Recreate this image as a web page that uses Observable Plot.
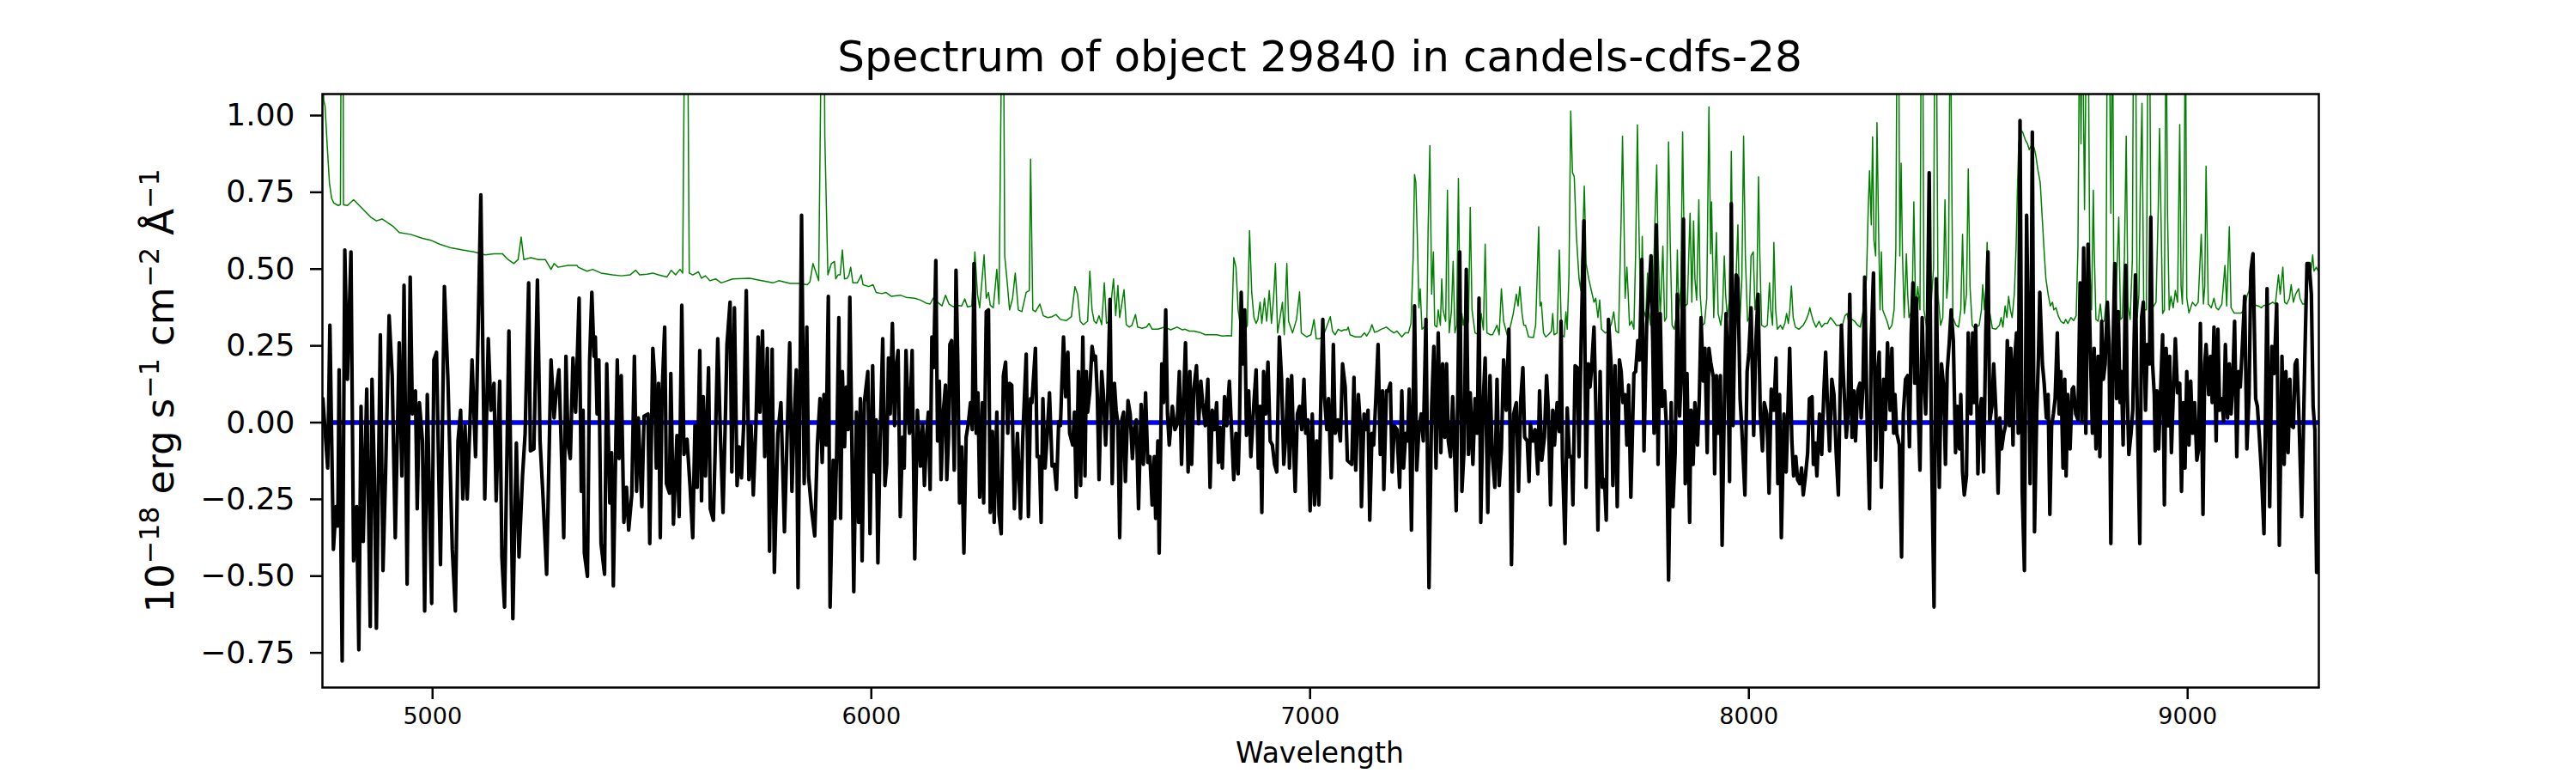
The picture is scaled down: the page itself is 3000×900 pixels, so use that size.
<!DOCTYPE html>
<html>
<head>
<meta charset="utf-8">
<script src="https://cdn.jsdelivr.net/npm/d3@7"></script>
<script src="https://cdn.jsdelivr.net/npm/@observablehq/plot@0.6"></script>
<style>
  body { margin: 0; background: #fff; }
  #wrap { position: relative; width: 3000px; height: 900px; font-family: "DejaVu Sans", sans-serif; color: #000; background: #fff; }
  #chart { position: absolute; left: 0; top: 0; }
  .lbl { position: absolute; white-space: nowrap; line-height: 1; }
  #title { left: 1537px; top: 66px; transform: translate(-50%, -50%); font-size: 50px; }
  #xlabel { left: 1537px; top: 876px; transform: translate(-50%, -50%); font-size: 33px; }
  #ylabel { left: 186px; top: 455px; transform: translate(-50%, -50%) rotate(-90deg); font-size: 45px; }
  #ylabel sup { font-size: 70%; vertical-align: baseline; position: relative; top: -0.55em; }
</style>
</head>
<body>
<div id="wrap">
  <div id="chart"></div>
  <div class="lbl" id="title">Spectrum of object 29840 in candels-cdfs-28</div>
  <div class="lbl" id="xlabel">Wavelength</div>
  <div class="lbl" id="ylabel">10<sup>−18</sup> erg s<sup>−1</sup> cm<sup>−2</sup> Å<sup>−1</sup></div>
</div>
<script>
// Axis ticks
const xTicks = [5000, 6000, 7000, 8000, 9000];
const yTicks = [-0.75, -0.5, -0.25, 0, 0.25, 0.5, 0.75, 1.0];
const xDomain = [4749, 9299];
const yDomain = [-0.863, 1.07];

// Zero level (blue)
const zeroLevel = [[4773, 0], [9300, 0]];

// Object spectrum (black): [wavelength, flux]
const spectrumPoints = [
[4750,0.078],[4761,-0.148],[4766,0.317],[4774,-0.413],[4780,-0.274],[4784,-0.337],[4787,0.172],[4794,-0.777],[4800,0.562],[4806,0.141],
[4814,0.556],[4820,-0.450],[4827,-0.274],[4832,-0.740],[4837,0.053],[4842,-0.387],[4850,0.109],[4858,-0.664],[4862,0.141],[4867,-0.148],
[4872,-0.670],[4881,0.286],[4887,-0.482],[4893,-0.161],[4901,0.348],[4908,0.153],[4915,-0.375],[4924,0.260],[4930,-0.174],[4935,0.447],
[4942,-0.526],[4949,0.474],[4954,0.028],[4961,0.103],[4965,-0.281],[4970,0.065],[4977,-0.060],[4982,-0.614],[4988,0.091],[4994,-0.312],
[4998,-0.589],[5003,0.204],[5009,0.229],[5018,-0.463],[5027,0.443],[5035,0.141],[5045,-0.413],[5052,-0.614],[5058,-0.060],[5064,0.040],
[5069,-0.249],[5074,-0.010],[5079,-0.249],[5085,-0.010],[5090,0.204],[5098,-0.111],[5110,0.742],[5119,-0.249],[5127,0.273],[5133,0.040],
[5140,0.128],[5145,-0.255],[5153,0.135],[5158,-0.438],[5164,-0.601],[5174,0.298],[5177,-0.023],[5183,-0.639],[5191,-0.067],[5197,-0.438],
[5205,-0.174],[5211,-0.035],[5219,0.455],[5223,-0.092],[5231,-0.086],[5239,0.464],[5245,-0.060],[5252,-0.249],[5260,-0.494],[5270,0.204],
[5277,0.015],[5282,0.103],[5288,0.172],[5293,-0.060],[5299,-0.375],[5304,0.216],[5309,-0.073],[5314,-0.117],[5320,0.210],[5326,0.034],
[5334,0.405],[5339,-0.224],[5343,0.040],[5346,-0.425],[5353,-0.501],[5358,0.204],[5363,0.424],[5368,0.216],[5371,0.279],[5375,0.028],
[5379,0.204],[5384,-0.394],[5392,-0.494],[5397,0.191],[5404,-0.262],[5408,-0.098],[5412,-0.532],[5421,0.204],[5425,-0.117],[5430,0.153],
[5436,-0.325],[5442,-0.211],[5447,-0.350],[5454,-0.236],[5460,0.216],[5465,-0.224],[5469,0.015],[5477,-0.274],[5482,0.021],[5491,0.028],
[5495,-0.394],[5502,0.242],[5506,0.153],[5510,-0.148],[5515,0.128],[5519,-0.375],[5523,0.091],[5529,0.311],[5533,-0.199],[5540,-0.230],
[5543,0.160],[5549,-0.331],[5557,-0.042],[5562,-0.306],[5568,0.382],[5573,-0.104],[5580,-0.054],[5587,-0.211],[5593,-0.375],[5598,-0.010],
[5603,-0.211],[5609,0.235],[5613,-0.255],[5617,0.084],[5622,-0.174],[5629,0.179],[5633,-0.281],[5640,-0.318],[5645,-0.035],[5650,0.273],
[5656,-0.042],[5662,-0.293],[5668,0.053],[5671,0.254],[5678,0.392],[5682,-0.161],[5688,0.374],[5694,-0.205],[5699,-0.079],[5704,-0.180],
[5709,-0.010],[5715,0.430],[5721,-0.186],[5726,-0.010],[5731,-0.236],[5737,-0.010],[5742,0.279],[5746,0.034],[5752,0.298],[5757,-0.111],
[5763,0.242],[5768,-0.419],[5774,0.239],[5779,-0.488],[5787,-0.035],[5794,0.065],[5802,-0.356],[5814,0.260],[5819,-0.224],[5823,-0.029],
[5829,0.172],[5833,-0.538],[5841,0.675],[5847,-0.199],[5853,0.311],[5857,-0.174],[5864,-0.287],[5871,-0.369],[5877,-0.073],[5883,0.078],
[5888,-0.130],[5892,0.091],[5897,-0.073],[5902,0.411],[5906,-0.601],
[5913,-0.123],[5917,-0.312],[5921,-0.098],[5926,0.342],[5930,-0.312],[5934,0.166],[5939,-0.079],[5943,0.116],[5947,-0.023],[5951,0.408],
[5955,0.003],[5960,-0.551],[5966,0.034],[5971,-0.325],[5975,0.078],[5979,-0.450],[5984,0.065],[5992,0.166],[5997,-0.362],[6003,0.185],
[6007,-0.161],[6011,0.009],[6015,-0.457],[6020,-0.060],[6026,0.273],[6031,-0.205],[6035,-0.136],[6039,0.210],[6043,0.028],[6048,0.323],
[6053,-0.010],[6056,0.166],[6061,0.235],[6066,-0.306],[6071,-0.048],[6075,-0.148],[6079,0.235],[6084,0.028],[6087,-0.035],[6093,0.235],
[6099,-0.444],[6105,0.040],[6112,-0.142],[6117,-0.004],[6121,-0.205],[6126,-0.042],[6130,0.034],[6134,-0.218],[6138,0.279],[6142,0.179],
[6147,0.528],[6151,-0.060],[6155,0.135],[6159,-0.186],[6164,0.034],[6169,0.122],[6172,-0.186],[6176,-0.048],[6179,0.254],[6183,0.267],
[6189,-0.155],[6193,0.496],[6197,0.204],[6201,-0.262],[6206,-0.079],[6211,-0.425],[6216,-0.048],[6221,-0.004],[6226,0.065],[6230,-0.023],
[6234,0.518],[6239,-0.035],[6243,0.097],[6247,-0.243],[6253,0.065],[6256,-0.262],[6262,0.361],[6267,0.367],[6271,-0.293],[6276,-0.029],
[6280,-0.325],[6286,0.034],[6291,-0.299],[6296,-0.362],[6301,0.153],[6306,0.197],[6311,-0.035],[6315,0.128],[6320,0.122],[6326,-0.281],
[6330,-0.130],[6333,-0.035],[6340,-0.312],[6345,-0.054],[6353,0.223],[6358,-0.306],[6363,0.078],[6366,0.065],[6374,0.242],[6378,-0.111],
[6383,-0.111],[6387,-0.325],[6391,0.078],[6396,-0.148],[6400,-0.060],[6406,0.097],[6412,-0.142],[6417,-0.136],[6422,-0.218],[6427,0.003],
[6431,-0.010],[6438,0.279],[6443,0.084],[6448,0.229],[6452,-0.035],[6459,-0.073],[6463,0.034],[6467,-0.243],[6472,0.166],[6477,-0.205],
[6482,0.279],
[6487,-0.174],[6490,0.166],[6493,0.034],[6498,0.103],[6503,0.248],[6508,0.204],[6511,0.216],[6515,0.091],[6519,-0.186],[6525,0.166],
[6529,0.091],[6534,-0.073],[6539,0.091],[6544,0.401],[6549,-0.199],[6554,0.128],[6558,0.040],[6562,-0.004],[6566,-0.375],[6571,0.009],
[6575,0.034],[6579,-0.192],[6585,0.072],[6590,0.028],[6595,-0.117],[6599,-0.023],[6604,0.009],[6609,-0.281],[6615,0.059],[6620,-0.136],
[6625,0.097],[6630,-0.130],[6635,-0.111],[6640,-0.268],[6645,-0.111],[6648,-0.312],[6653,-0.060],[6656,-0.425],[6662,0.191],[6666,0.065],
[6671,0.367],[6675,0.028],[6679,-0.073],[6686,0.053],[6692,-0.023],[6697,-0.004],[6702,0.166],[6707,-0.136],[6712,0.091],[6716,0.260],
[6722,-0.161],[6726,0.166],[6730,-0.136],[6735,0.109],[6741,0.185],[6746,-0.004],[6751,0.135],[6755,0.065],[6761,-0.010],[6767,0.141],
[6772,-0.211],[6777,0.040],[6782,-0.023],[6787,0.065],[6791,-0.130],[6795,-0.016],[6800,-0.148],[6805,0.084],[6810,-0.010],[6816,0.135],
[6821,-0.023],[6826,-0.186],[6831,-0.035],[6836,-0.167],[6839,-0.023],[6843,0.424],[6847,0.191],[6851,0.367],[6855,-0.042],[6860,0.103],
[6865,-0.111],[6872,0.065],[6877,0.172],[6882,-0.148],[6886,0.053],[6890,-0.293],[6894,0.166],[6899,0.028],[6904,0.197],[6909,-0.060],
[6914,-0.073],[6919,-0.136],[6924,-0.161],[6930,0.279],[6935,0.141],[6940,-0.136],[6945,-0.035],[6949,0.141],[6953,-0.148],[6958,0.153],
[6962,-0.060],[6966,-0.224],[6971,0.028],[6976,0.053],[6981,-0.023],[6986,0.141],[6990,-0.035],[6995,0.009],[7000,-0.287],[7005,0.028],
[7010,-0.268],[7015,-0.060],[7020,-0.268],[7025,0.116],[7029,0.336],[7033,0.078],[7038,-0.023],[7042,0.078],[7048,-0.180],[7053,0.254],
[7057,-0.035],[7063,0.009],
[7069,-0.060],[7074,0.191],[7080,0.116],[7085,-0.123],[7090,-0.130],[7095,-0.136],[7100,0.147],[7104,-0.155],[7110,0.091],[7115,-0.023],
[7117,-0.274],[7123,0.028],[7127,-0.023],[7132,0.040],[7136,-0.318],[7141,-0.035],[7145,-0.073],[7150,0.084],[7155,0.254],[7160,-0.104],
[7165,0.103],[7168,-0.218],[7174,0.103],[7178,0.103],[7183,0.128],[7187,-0.161],[7192,-0.010],[7198,-0.023],[7204,-0.211],[7209,0.103],
[7213,-0.148],[7218,-0.035],[7222,-0.060],[7226,0.109],[7231,-0.350],[7238,0.380],[7243,-0.155],[7248,-0.023],[7253,0.028],[7258,-0.060],
[7264,0.336],[7271,-0.538],[7277,0.047],[7282,0.248],[7287,-0.148],[7292,0.292],[7298,-0.098],[7302,0.191],[7307,-0.048],[7311,0.191],
[7315,-0.060],[7320,-0.111],[7325,0.084],[7328,-0.035],[7333,-0.287],[7341,0.556],[7346,-0.224],[7351,-0.086],[7356,0.499],[7361,-0.104],
[7365,0.097],[7371,-0.136],[7376,0.078],[7381,-0.035],[7385,0.405],[7389,-0.325],[7394,0.053],[7399,0.210],[7405,-0.293],[7410,0.153],
[7415,-0.098],[7421,-0.211],[7426,0.141],[7431,-0.205],[7436,-0.086],[7441,0.204],[7447,0.040],[7453,0.304],[7459,-0.463],[7464,0.028],
[7470,0.065],[7475,-0.224],[7480,0.072],[7485,0.179],[7489,-0.048],[7495,-0.060],[7499,-0.192],[7502,-0.004],[7508,-0.060],[7513,-0.023],
[7519,-0.167],[7523,0.103],[7528,-0.123],[7534,-0.048],[7539,0.153],[7543,0.040],[7548,-0.268],[7553,0.040],[7557,-0.073],[7563,0.065],
[7568,-0.029],[7572,0.330],[7575,-0.111],[7581,-0.394],[7586,0.047],[7591,-0.111],[7596,-0.111],[7599,-0.268],[7604,0.185],[7609,0.179],
[7613,-0.111],[7618,0.286],[7624,0.657],[7629,-0.211],[7634,0.191],[7638,0.116],
[7641,0.166],[7647,0.311],[7651,0.065],[7656,-0.350],[7661,0.166],[7666,-0.211],[7671,-0.186],[7675,-0.318],[7680,0.336],[7686,0.191],
[7690,-0.205],[7695,0.185],[7700,-0.274],[7705,0.204],[7709,0.166],[7713,0.065],[7718,0.091],[7722,-0.073],[7726,0.122],[7731,-0.243],
[7738,0.160],[7742,0.166],[7747,0.267],[7751,0.204],[7756,0.531],[7761,-0.092],[7767,0.317],[7772,0.418],[7777,0.543],[7781,0.254],
[7784,-0.035],[7789,0.644],[7793,-0.136],[7798,0.355],[7802,0.053],[7808,0.103],[7812,-0.010],[7817,-0.513],[7823,0.065],[7827,-0.274],
[7832,-0.098],[7837,0.418],[7842,0.021],[7846,0.153],[7851,0.663],[7855,-0.199],[7859,0.160],[7865,-0.325],[7868,0.040],[7873,-0.136],
[7877,0.065],[7883,-0.073],[7887,0.078],[7891,0.342],[7896,0.135],[7900,0.242],[7905,-0.098],[7909,0.242],[7913,0.197],[7919,0.147],
[7922,-0.167],[7926,0.153],[7930,-0.035],[7935,0.153],[7939,-0.400],[7943,-0.035],[7948,0.355],[7952,0.191],[7956,-0.192],[7960,0.713],
[7964,-0.010],[7967,0.242],[7971,0.481],[7975,0.468],[7980,0.078],[7984,-0.023],[7991,-0.236],[7996,0.166],[8000,0.229],[8005,0.374],
[8011,-0.042],[8016,0.267],[8021,0.418],[8026,0.028],[8031,-0.092],[8035,0.065],[8041,0.028],[8046,-0.230],[8051,0.109],[8057,0.040],
[8062,0.210],[8066,-0.199],[8070,0.091],[8074,-0.375],[8080,0.028],[8085,-0.161],[8089,0.040],[8093,0.242],[8098,-0.060],[8102,-0.174],
[8107,-0.111],[8111,-0.186],[8116,-0.199],[8120,-0.148],[8124,-0.236],[8129,-0.174],[8134,-0.098],[8138,0.078],[8144,0.084],[8147,-0.136],
[8151,-0.067],[8155,-0.174],[8161,0.028],[8166,-0.104],[8171,0.103],[8175,0.229],[8179,0.065],[8184,-0.092],[8189,0.141],[8194,0.091],
[8199,-0.098],[8204,-0.236],[8208,0.103],[8211,0.317],[8215,0.166],
[8222,-0.048],[8226,0.028],[8230,0.418],[8235,-0.048],[8239,0.103],[8243,-0.060],[8248,0.103],[8253,0.128],[8256,0.015],[8260,0.116],
[8264,0.474],[8269,0.040],[8275,-0.281],[8279,0.267],[8284,0.487],[8289,-0.123],[8294,0.166],[8297,0.229],[8302,-0.211],[8307,0.141],
[8311,-0.023],[8316,0.260],[8322,0.040],[8326,0.242],[8330,-0.035],[8333,0.091],[8337,-0.035],[8343,-0.073],[8348,-0.438],[8352,0.028],
[8357,0.141],[8362,0.153],[8366,-0.079],[8370,0.292],[8374,0.455],[8378,0.128],[8382,0.405],[8386,0.040],[8390,-0.155],[8395,0.342],
[8398,0.191],[8403,0.028],[8406,0.191],[8411,0.814],[8416,-0.060],[8422,-0.601],[8427,0.468],[8434,-0.211],[8439,0.191],[8444,0.116],
[8448,-0.136],[8452,0.166],[8457,0.267],[8461,0.367],[8466,0.267],[8471,-0.098],[8475,0.053],[8480,-0.086],[8483,0.091],[8487,-0.161],
[8491,-0.236],[8496,-0.174],[8500,0.292],[8506,0.028],[8510,0.292],[8513,0.065],[8517,0.317],[8522,-0.167],[8526,0.028],[8530,0.078],
[8535,-0.161],[8540,0.292],[8545,0.556],[8549,0.003],[8554,0.053],[8558,0.191],[8563,0.040],[8568,-0.230],[8572,0.015],[8576,-0.086],
[8581,-0.035],[8585,-0.010],[8589,0.267],[8594,-0.010],[8597,0.242],[8602,-0.073],[8605,0.191],[8610,0.292],[8614,-0.035],[8618,0.984],
[8623,-0.224],[8628,-0.482],[8633,0.675],[8637,0.267],[8641,-0.199],[8646,0.946],[8651,-0.356],[8656,0.028],[8660,0.216],[8663,0.424],
[8669,0.191],[8673,0.128],[8678,0.015],[8682,0.091],[8686,-0.299],[8690,-0.010],[8694,0.028],[8698,0.078],[8703,0.292],[8707,0.028],
[8711,0.166],[8716,-0.148],[8720,0.141],[8723,-0.174],[8727,0.091],[8732,-0.086],[8737,0.109],[8740,0.116],[8745,0.028],[8750,0.009],
[8755,0.455],[8759,0.003],[8763,0.569],[8768,-0.035],[8773,0.581],[8778,0.254],[8783,-0.035],[8787,0.242],[8791,-0.086],
[8796,0.216],[8800,-0.111],[8804,0.330],[8808,0.141],[8812,0.191],[8817,0.392],[8821,0.254],[8825,-0.394],[8830,0.254],[8834,0.518],
[8838,0.078],[8842,0.361],[8846,0.065],[8849,0.166],[8853,-0.073],[8859,0.512],[8862,0.116],[8866,-0.104],[8871,-0.035],[8875,0.040],
[8881,0.481],[8885,0.053],[8891,-0.394],[8895,0.342],[8899,0.392],[8904,0.040],[8908,0.254],[8913,0.191],[8916,0.669],[8920,0.191],
[8924,0.091],[8926,-0.092],[8930,0.103],[8934,-0.086],[8938,0.091],[8943,0.286],[8947,-0.268],[8951,0.242],[8956,-0.010],[8959,0.216],
[8963,-0.098],[8967,0.078],[8972,0.273],[8977,0.097],[8982,0.128],[8986,-0.224],[8990,0.065],[8994,-0.148],[8998,0.166],[9003,-0.073],
[9007,0.135],[9011,-0.035],[9016,0.065],[9021,-0.123],[9025,-0.086],[9029,0.323],[9035,-0.299],[9039,0.191],[9042,0.254],[9048,0.091],
[9052,0.216],[9056,0.065],[9060,0.311],[9065,-0.060],[9069,0.304],[9073,0.040],[9078,0.078],[9082,0.003],[9086,0.254],[9091,0.015],
[9095,0.191],[9099,0.028],[9102,0.103],[9107,0.330],[9112,-0.111],[9116,0.166],[9120,0.116],[9124,0.229],[9130,0.411],[9135,-0.086],
[9140,0.091],[9144,0.493],[9149,0.550],[9155,0.078],[9159,0.053],[9163,-0.035],[9168,-0.155],[9174,-0.362],[9181,0.436],[9187,-0.274],
[9192,0.248],[9197,0.160],[9203,0.386],[9209,-0.400],[9215,0.216],[9220,-0.136],[9224,0.166],[9229,-0.098],[9233,0.141],[9236,-0.010],
[9241,-0.016],[9245,0.191],[9249,0.204],[9254,0.003],[9260,-0.306],[9267,0.204],[9272,0.518],[9277,0.518],[9282,0.418],[9286,0.053],
[9290,-0.023],[9294,-0.488],[9298,-0.488]
];

// Noise / sky spectrum (green): [wavelength, flux]; values above the frame are clipped
const noisePoints = [
[4749,1.40],[4752,1.05],[4755,1.03],[4760,0.90],[4765,0.78],[4770,0.73],[4775,0.715],[4785,0.707],[4790,0.71],[4792,1.40],
[4796,1.40],[4797,0.709],[4806,0.707],[4820,0.726],[4833,0.707],[4859,0.669],[4872,0.657],[4885,0.663],[4911,0.638],[4924,0.619],
[4950,0.613],[4977,0.600],[4996,0.594],[5016,0.581],[5042,0.569],[5068,0.562],[5094,0.556],[5120,0.546],[5140,0.550],[5159,0.550],
[5172,0.531],[5185,0.518],[5195,0.531],[5202,0.604],[5208,0.531],[5224,0.537],[5241,0.531],[5257,0.531],[5270,0.499],[5277,0.518],
[5286,0.506],[5309,0.512],[5329,0.512],
[5332,0.506],[5352,0.493],[5365,0.499],[5384,0.487],[5410,0.481],[5430,0.478],[5450,0.481],[5463,0.496],[5472,0.481],[5489,0.483],
[5502,0.487],[5515,0.481],[5534,0.474],[5544,0.496],[5554,0.481],[5564,0.499],[5570,0.487],[5575,1.40],[5581,1.40],[5585,0.487],
[5593,0.481],[5606,0.491],[5613,0.470],[5622,0.478],[5632,0.462],[5645,0.468],[5658,0.455],[5684,0.468],[5723,0.470],[5750,0.462],
[5776,0.455],[5789,0.462],[5815,0.453],[5834,0.453],[5854,0.449],[5860,0.458],[5867,0.518],[5880,0.462],[5887,1.40],[5892,1.40],
[5894,0.933],[5901,0.481],
[5909,0.518],[5916,0.525],[5919,0.468],[5924,0.481],[5929,0.481],[5934,0.562],[5939,0.468],[5945,0.470],[5949,0.481],[5953,0.506],
[5958,0.455],[5968,0.455],[5973,0.468],[5977,0.481],[5981,0.449],[5994,0.443],[6004,0.449],[6011,0.424],[6024,0.420],[6033,0.424],
[6046,0.411],[6066,0.415],[6079,0.408],[6099,0.405],[6112,0.399],[6125,0.389],[6134,0.386],[6141,0.405],[6151,0.392],[6161,0.380],
[6169,0.415],[6177,0.386],[6187,0.377],[6196,0.382],[6206,0.380],[6213,0.403],[6219,0.377],[6229,0.380],[6236,0.556],[6242,0.418],
[6247,0.374],[6257,0.546],[6262,0.405],[6267,0.424],[6271,0.382],[6278,0.374],[6286,0.499],[6291,0.386],[6298,1.40],[6301,1.40],
[6304,0.543],[6309,0.468],[6315,0.367],[6322,0.405],[6328,0.487],[6335,0.367],[6343,0.361],[6353,0.424],[6360,0.430],[6363,0.858],
[6368,0.367],[6374,0.361],[6384,0.386],[6392,0.348],[6402,0.342],[6412,0.345],[6421,0.352],[6431,0.336],[6444,0.332],[6456,0.345],
[6464,0.443],[6470,0.418],[6476,0.330],[6483,0.319],
[6487,0.323],[6493,0.330],[6498,0.493],[6503,0.367],[6508,0.330],[6513,0.323],[6519,0.348],[6525,0.319],[6531,0.455],[6536,0.323],
[6542,0.330],[6552,0.468],[6557,0.348],[6562,0.447],[6566,0.342],[6576,0.433],[6581,0.319],[6588,0.311],[6594,0.317],[6602,0.352],
[6607,0.311],[6617,0.307],[6627,0.311],[6633,0.323],[6640,0.304],[6653,0.304],[6669,0.311],[6682,0.302],[6697,0.311],[6709,0.302],
[6715,0.304],[6725,0.298],[6735,0.298],[6748,0.294],[6761,0.286],[6774,0.286],[6787,0.286],[6800,0.282],[6813,0.283],[6821,0.282],
[6826,0.537],[6831,0.506],[6836,0.367],[6842,0.304],[6849,0.292],[6857,0.317],[6862,0.625],[6867,0.424],[6872,0.342],[6877,0.323],
[6881,0.336],[6886,0.392],[6890,0.323],[6896,0.405],[6901,0.330],[6907,0.430],[6912,0.323],[6917,0.411],[6921,0.518],[6926,0.292],
[6937,0.392],[6941,0.286],[6947,0.518],[6951,0.330],[6960,0.292],[6969,0.336],[6976,0.426],[6980,0.292],[6992,0.279],[7002,0.286],
[7009,0.336],[7014,0.273],[7022,0.273],[7031,0.286],[7046,0.345],[7051,0.298],[7057,0.286],
[7064,0.304],[7071,0.298],[7077,0.302],[7084,0.302],[7087,0.311],[7091,0.286],[7103,0.279],[7116,0.279],[7124,0.292],[7129,0.282],
[7136,0.298],[7141,0.319],[7147,0.294],[7155,0.298],[7162,0.304],[7174,0.311],[7185,0.298],[7191,0.292],[7198,0.298],[7209,0.279],
[7217,0.292],[7224,0.292],[7230,0.323],[7235,0.543],[7238,0.808],[7241,0.782],[7245,0.569],[7248,0.374],[7251,0.436],[7255,0.304],
[7260,0.311],[7266,0.317],[7269,0.631],[7273,0.902],[7277,0.418],[7281,0.556],[7284,0.317],[7289,0.311],[7292,0.367],[7297,0.317],
[7300,0.468],[7303,0.367],[7309,0.330],[7313,0.757],[7317,0.292],[7322,0.361],[7326,0.525],[7330,0.292],[7334,0.317],[7338,0.795],
[7342,0.317],[7346,0.355],[7349,0.317],[7353,0.355],[7356,0.304],[7361,0.330],[7365,0.701],[7369,0.367],[7376,0.292],[7384,0.286],
[7390,0.355],[7395,0.302],[7399,0.581],[7403,0.292],[7411,0.286],[7416,0.286],[7426,0.317],[7431,0.286],[7436,0.436],[7441,0.330],
[7449,0.286],[7455,0.304],[7463,0.355],[7470,0.418],[7474,0.380],[7478,0.443],[7483,0.355],[7487,0.317],[7491,0.317],[7498,0.279],
[7509,0.277],[7514,0.317],[7521,0.638],[7524,0.380],[7527,0.392],[7532,0.292],[7537,0.279],[7543,0.286],[7550,0.298],[7553,0.355],
[7556,0.286],[7563,0.292],[7568,0.562],[7573,0.286],[7579,0.279],[7583,0.361],[7586,0.304],[7590,0.481],[7594,1.015],[7598,0.814],
[7602,0.801],[7607,0.606],[7613,0.468],[7617,0.430],[7622,0.631],[7625,0.770],[7629,0.518],[7635,0.468],
[7641,0.430],[7647,0.392],[7651,0.405],[7656,0.342],[7660,0.399],[7664,0.304],[7673,0.292],[7680,0.298],[7687,0.323],[7692,0.361],
[7697,0.298],[7703,0.292],[7709,0.669],[7712,0.933],[7715,0.694],[7718,0.405],[7722,0.506],[7725,0.418],[7728,0.317],[7733,0.330],
[7738,0.304],[7742,0.556],[7746,0.969],[7750,0.594],[7754,0.342],[7757,0.606],[7760,0.367],[7765,0.342],[7769,0.487],[7772,0.367],
[7776,0.317],[7780,0.330],[7786,0.657],[7790,0.839],[7793,0.569],[7798,0.342],[7804,0.575],[7808,0.330],[7812,0.342],[7817,0.914],
[7821,0.569],[7825,0.317],[7830,0.304],[7834,0.342],[7837,0.562],[7840,0.355],[7845,0.443],[7849,0.946],[7852,0.631],[7855,0.380],
[7860,0.386],[7863,0.543],[7866,0.682],[7870,0.392],[7874,0.657],[7877,0.468],[7881,0.399],[7886,0.726],[7889,0.418],[7894,0.317],
[7899,0.323],[7904,0.405],[7909,1.028],[7913,0.550],[7915,0.719],[7920,0.342],[7926,0.619],[7930,0.355],[7936,0.317],[7940,0.367],
[7944,0.543],[7947,0.418],[7951,0.342],[7956,0.405],[7960,0.883],[7963,0.543],[7966,0.367],[7971,0.481],[7975,0.644],[7979,0.317],
[7984,0.468],[7988,0.933],[7992,0.543],[7997,0.330],[8001,0.342],[8005,0.543],[8010,0.556],[8014,0.367],[8018,0.418],[8022,0.801],
[8025,0.543],[8029,0.317],[8036,0.311],[8042,0.317],[8047,0.455],[8050,0.367],[8054,0.317],[8057,0.587],[8061,0.367],[8065,0.304],
[8072,0.317],[8077,0.304],[8082,0.323],[8086,0.355],[8090,0.323],[8093,0.361],[8097,0.445],[8101,0.342],[8106,0.311],[8114,0.304],
[8124,0.317],[8131,0.336],[8136,0.355],[8139,0.374],[8142,0.355],[8147,0.330],[8153,0.311],[8160,0.330],[8166,0.311],[8173,0.323],
[8179,0.323],[8186,0.342],[8193,0.330],[8199,0.317],[8206,0.317],[8212,0.311],
[8219,0.348],[8224,0.355],[8228,0.323],[8235,0.336],[8241,0.330],[8248,0.317],[8254,0.311],[8261,0.367],[8268,0.468],[8272,0.694],
[8275,0.820],[8279,0.644],[8282,0.931],[8285,0.594],[8289,0.543],[8292,0.977],[8296,0.594],[8299,0.367],[8302,0.556],[8305,0.367],
[8310,0.348],[8315,0.330],[8320,0.304],[8326,0.317],[8331,0.367],[8335,0.569],[8338,1.40],[8341,1.40],[8344,0.543],[8347,0.845],
[8350,0.556],[8354,0.342],[8359,0.550],[8362,0.418],[8365,0.342],[8372,0.367],[8376,0.719],[8380,0.367],[8385,0.443],[8390,0.367],
[8393,1.40],[8396,1.40],[8399,0.367],[8405,0.311],[8411,0.317],[8414,0.355],[8421,0.506],[8424,1.40],[8427,1.40],[8431,0.418],
[8437,0.317],[8442,0.342],[8447,0.726],[8451,0.405],[8455,0.481],[8459,1.40],[8461,1.06],[8465,0.342],[8472,0.317],[8478,0.311],
[8483,0.367],[8487,0.613],[8491,0.355],[8496,0.418],[8500,0.826],[8504,0.443],[8509,0.317],[8515,0.307],[8525,0.317],[8530,0.367],
[8533,0.449],[8537,0.367],[8540,0.430],[8543,0.587],[8548,0.367],[8555,0.307],[8563,0.304],[8571,0.317],[8575,0.342],[8579,0.311],
[8584,0.380],[8588,0.342],[8592,0.411],[8596,0.367],[8600,0.342],[8605,0.418],[8609,0.569],[8612,0.757],[8615,0.908],[8620,0.952],
[8624,0.946],[8630,0.921],[8635,0.908],[8639,0.889],[8646,0.908],[8650,0.896],[8654,0.870],[8659,0.820],[8664,0.782],[8669,0.657],
[8673,0.556],[8677,0.468],[8682,0.418],[8687,0.380],[8692,0.392],[8695,0.367],[8700,0.374],[8705,0.348],[8711,0.330],[8718,0.323],
[8722,0.336],[8727,0.323],[8734,0.342],[8740,0.332],[8746,0.348],[8750,0.569],[8754,1.40],[8757,0.908],[8760,1.40],[8765,0.694],
[8770,1.40],[8773,1.40],[8777,0.506],[8781,0.367],[8785,0.757],[8787,0.569],[8791,0.336],
[8796,0.330],[8801,0.386],[8805,0.330],[8810,0.330],[8814,0.392],[8817,1.40],[8821,1.40],[8825,0.682],[8829,1.40],[8832,0.330],
[8836,0.367],[8840,0.543],[8843,0.669],[8847,0.336],[8851,0.342],[8856,0.543],[8860,0.933],[8864,0.380],[8869,0.336],[8874,0.531],
[8877,1.40],[8881,1.40],[8885,0.342],[8889,0.418],[8892,0.757],[8896,1.040],[8900,0.367],[8906,0.367],[8910,1.40],[8913,1.40],
[8917,0.367],[8923,0.380],[8928,0.392],[8933,0.694],[8936,0.958],[8939,0.694],[8943,0.355],[8947,0.367],[8951,1.40],[8954,0.694],
[8958,0.367],[8962,0.411],[8967,0.374],[8972,0.430],[8977,0.392],[8982,0.971],[8985,0.443],[8988,0.386],[8992,0.694],[8995,1.40],
[8998,0.405],[9003,0.357],[9011,0.392],[9018,0.380],[9024,0.392],[9031,0.613],[9036,0.386],[9039,0.443],[9042,0.835],[9047,0.386],
[9054,0.374],[9060,0.405],[9065,0.374],[9070,0.367],[9078,0.386],[9085,0.512],[9089,0.380],[9095,0.638],[9099,0.374],[9106,0.357],
[9116,0.357],[9122,0.357],[9130,0.367],[9135,0.411],[9140,0.430],[9143,0.493],[9148,0.418],[9155,0.382],[9161,0.380],[9168,0.374],
[9174,0.382],[9181,0.382],[9187,0.386],[9194,0.392],[9200,0.386],[9207,0.481],[9211,0.418],[9217,0.506],[9221,0.392],[9226,0.386],
[9232,0.405],[9236,0.449],[9241,0.392],[9246,0.418],[9253,0.436],[9256,0.405],[9262,0.386],[9267,0.386],[9272,0.481],[9277,0.512],
[9281,0.493],[9285,0.546],[9288,0.493],[9293,0.506],[9298,0.493]
];

const chart = Plot.plot({
  width: 3000,
  height: 900,
  marginLeft: 375,
  marginRight: 300,
  marginTop: 109,
  marginBottom: 100,
  style: { fontFamily: "DejaVu Sans", background: "white", color: "black", overflow: "visible" },
  x: { domain: xDomain },
  y: { domain: yDomain },
  marks: [
    Plot.line(noisePoints, { x: d => d[0], y: d => d[1], stroke: "#008000", strokeWidth: 1.5, clip: true }),
    Plot.line(zeroLevel, { x: d => d[0], y: d => d[1], stroke: "#0000ff", strokeWidth: 5.5, clip: true }),
    Plot.line(spectrumPoints, { x: d => d[0], y: d => d[1], stroke: "black", strokeWidth: 4.2, strokeLinejoin: "round", clip: true }),
    Plot.axisX({ ticks: xTicks, tickFormat: d => String(d), tickSize: 14, tickPadding: 9, fontSize: 27, strokeWidth: 2.5, label: null }),
    Plot.axisY({ ticks: yTicks, tickFormat: d3.format(".2f"), tickSize: 14, tickPadding: 18, fontSize: 36, strokeWidth: 2.5, label: null }),
    Plot.frame({ stroke: "black", strokeWidth: 2.5 })
  ]
});
document.getElementById("chart").appendChild(chart);
</script>
</body>
</html>
